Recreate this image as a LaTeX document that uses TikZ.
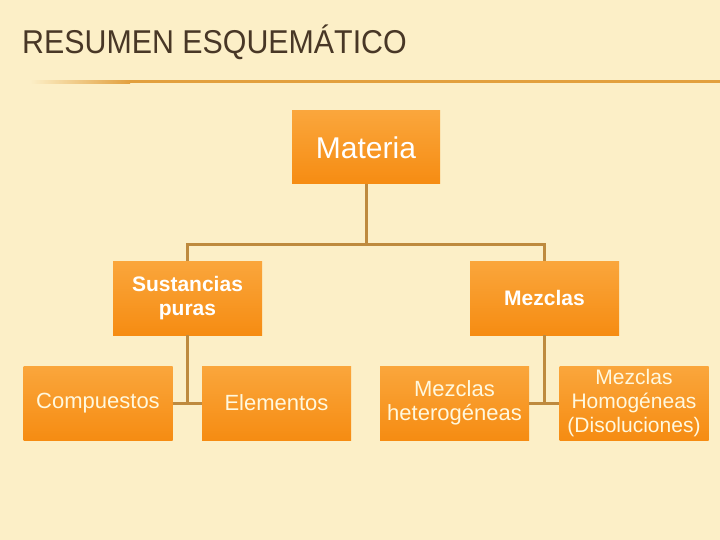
\documentclass[tikz,border=0pt]{standalone}
\usepackage{fontspec}
\setmainfont{Liberation Sans}
\newfontfamily\titulofont[FakeStretch=0.92]{Liberation Sans}
\usepackage{xcolor}
\definecolor{fondo}{RGB}{252,239,199}
\definecolor{linea}{RGB}{226,160,62}
\definecolor{conector}{RGB}{190,138,62}
\definecolor{naranja}{RGB}{246,140,18}
\definecolor{naranjaclaro}{RGB}{250,166,60}
\definecolor{textoclaro}{RGB}{255,248,222}
\definecolor{marron}{RGB}{72,55,38}

\tikzset{
  caja/.style={rectangle, minimum width=149pt, minimum height=74pt, inner sep=0pt,
    align=center, text=textoclaro, top color=naranjaclaro, bottom color=naranja,
    font=\fontsize{22}{24}\selectfont},
  negrita/.style={text=white, font=\fontsize{21}{24}\selectfont\bfseries},
  union/.style={draw=conector, line width=3pt}
}

\begin{document}
\begin{tikzpicture}[x=1pt, y=-1pt]
      \fill[fondo] (0,0) rectangle (720,540);
      \useasboundingbox (0,0) rectangle (720,540);

      \node[anchor=base west, inner sep=0pt, text=marron] (titulo) at (22,54)
        {\titulofont\fontsize{33}{36}\selectfont RESUMEN ESQUEMÁTICO};
      \shade[left color=fondo, right color=linea] (30,80.5) rectangle (130,83.5);
      \fill[linea] (130,80.5) rectangle (720,83.5);

      \node[caja, minimum width=148pt, minimum height=73pt, text=white,
        font=\fontsize{30}{32}\selectfont] (mat) at (366,147.5) {Materia};
      \node[caja, negrita] (sus) at (187.5,298) {Sustancias\\ puras};
      \node[caja, negrita] (mez) at (544.5,298) {Mezclas};
      \node[caja] (com) at (98,403) {Compuestos};
      \node[caja] (ele) at (276.5,403) {Elementos};
      \node[caja] (het) at (454.5,403) {Mezclas\\ heterogéneas};
      \node[caja, font=\fontsize{21}{24}\selectfont] (hom) at (634,403)
        {Mezclas\\ Homogéneas\\ (Disoluciones)};

      \coordinate (bus) at (366,244);
      \draw[union] (mat.south) -- (bus);
      \draw[union] (sus.north) |- (bus) -| (mez.north);
      \draw[union] (sus.south) -- (sus.south |- com.east);
      \draw[union] (com.east) -- (ele.west);
      \draw[union] (mez.south) -- (mez.south |- het.east);
      \draw[union] (het.east) -- (hom.west);
    \end{tikzpicture}
\end{document}
